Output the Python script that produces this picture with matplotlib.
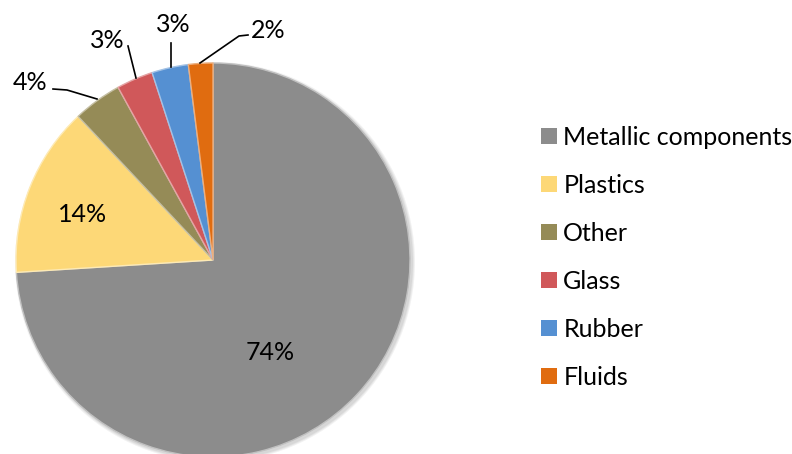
import matplotlib.pyplot as plt
from matplotlib.patches import Patch, Circle
from matplotlib.colors import to_rgb

labels = ["Metallic components", "Plastics", "Other", "Glass", "Rubber", "Fluids"]
shares = [74, 14, 4, 3, 3, 2]
colors = ["#8c8c8c", "#fdd877", "#958b57", "#d0585a", "#5590d2", "#e06c10"]

plt.rcParams['font.family'] = ['Lato', 'DejaVu Sans']

fig = plt.figure(figsize=(7.92, 4.54), dpi=100)
ax = fig.add_axes([0, 0, 1, 1])

cx, cy, r = 213, 194, 197

# soft shadow under the pie
for k, a in enumerate([0.05, 0.05, 0.06]):
    ax.add_patch(Circle((cx + 2, cy - 2), r + 3 - k, color='black', alpha=a, lw=0, zorder=0))

wedges, _ = ax.pie(shares, colors=colors, startangle=90, counterclock=False,
                   center=(cx, cy), radius=r,
                   wedgeprops=dict(linewidth=1.0))

# lighter rim on each slice for a bit of a bevel look
for w, c in zip(wedges, colors):
    rgb = to_rgb(c)
    w.set_edgecolor(tuple(v + (1 - v) * 0.45 for v in rgb))

ax.set_xlim(0, 792)
ax.set_ylim(0, 454)
ax.set_aspect('equal')
ax.axis('off')

fs = 18
# labels inside the two big slices
ax.text(270, 102, f"{shares[0]}%", fontsize=fs, ha='center', va='center')
ax.text(83, 239, f"{shares[1]}%", fontsize=fs, ha='center', va='center')

# small slices get labels outside with leader lines
outside = [
    (2, (30, 371), [(53, 365), (67, 364), (97, 355)]),
    (3, (107, 414), [(128, 408), (136, 376)]),
    (4, (173, 429), [(171, 411), (171, 387)]),
    (5, (268, 424), [(248, 419), (239, 418), (200, 391)]),
]
for i, pos, pts in outside:
    ax.text(pos[0], pos[1], f"{shares[i]}%", fontsize=fs, ha='center', va='center')
    xs, ys = zip(*pts)
    ax.plot(xs, ys, color='black', lw=1.2)

handles = [Patch(facecolor=c, edgecolor='none') for c in colors]
ax.legend(handles, labels, loc='upper left', bbox_to_anchor=(541 / 792, (454 - 126) / 454),
          frameon=False, fontsize=fs, handlelength=0.64, handleheight=0.64,
          handletextpad=0.25, labelspacing=1.0, borderpad=0, borderaxespad=0)

fig.savefig("out.png", dpi=100)
